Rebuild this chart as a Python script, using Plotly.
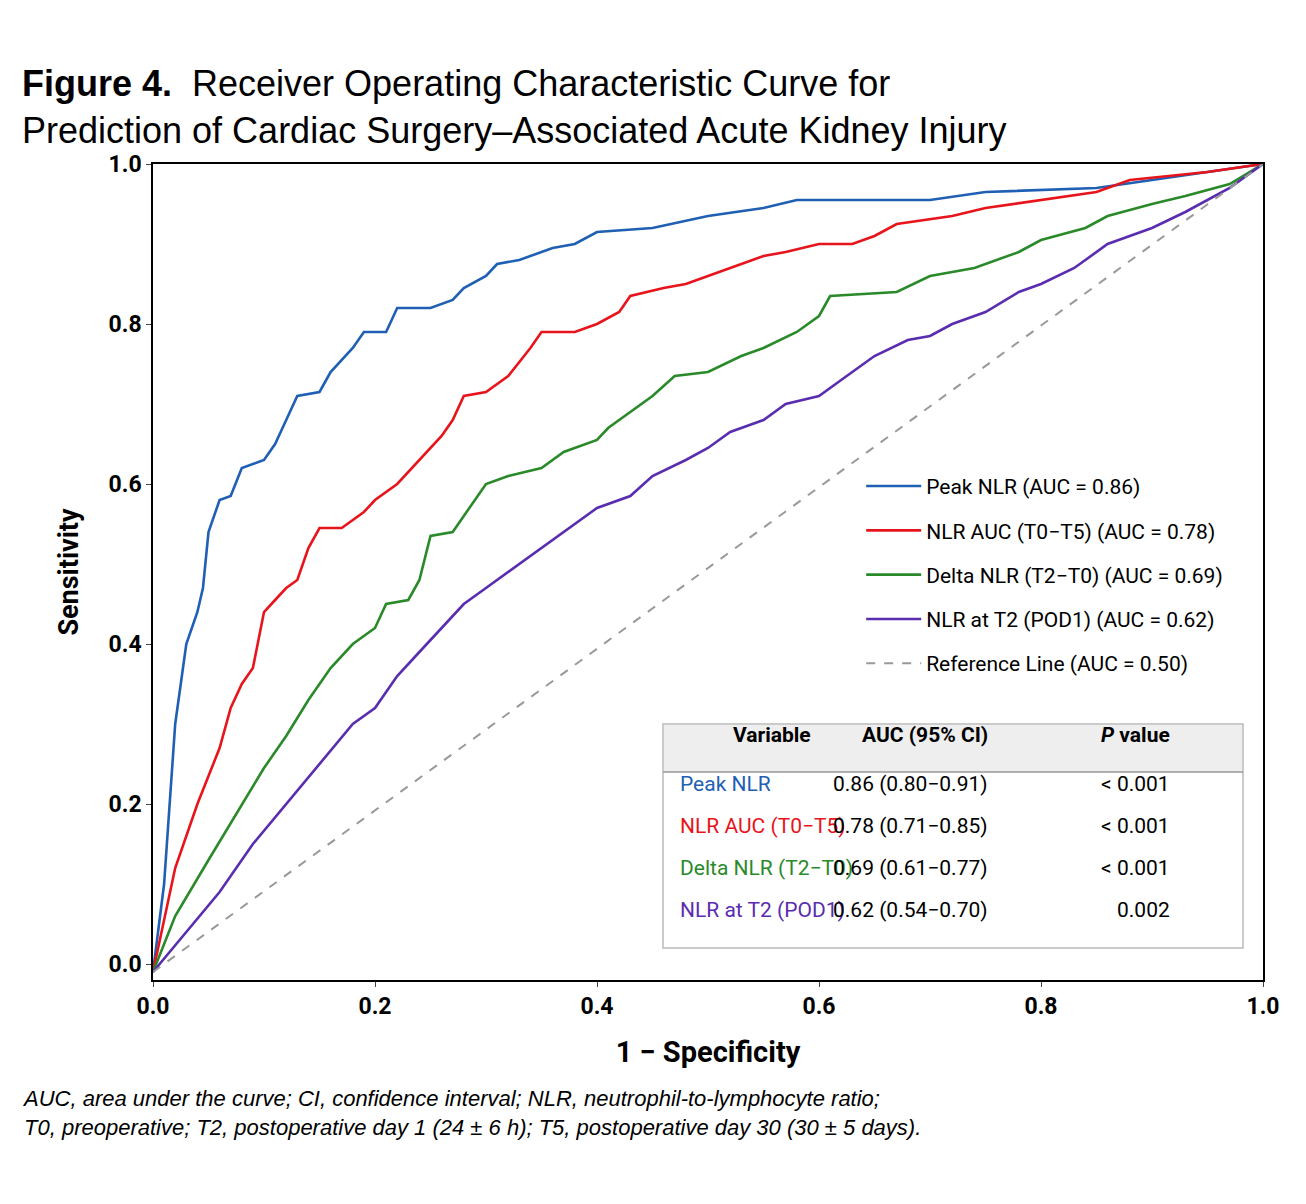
import plotly.graph_objects as go

peak_x=[0,0.01,0.02,0.03,0.04,0.045,0.05,0.06,0.07,0.08,0.1,0.11,0.12,0.13,0.15,0.16,0.18,0.19,0.21,0.22,0.25,0.27,0.28,0.3,0.31,0.33,0.36,0.38,0.4,0.45,0.5,0.55,0.58,0.7,0.75,0.85,0.9,0.95,1]
peak_y=[-0.01,0.1,0.3,0.4,0.44,0.47,0.54,0.58,0.585,0.62,0.63,0.65,0.68,0.71,0.715,0.74,0.77,0.79,0.79,0.82,0.82,0.83,0.845,0.86,0.875,0.88,0.895,0.9,0.915,0.92,0.935,0.945,0.955,0.955,0.965,0.97,0.98,0.99,1]
auc_x=[0,0.02,0.04,0.06,0.07,0.08,0.09,0.1,0.11,0.12,0.13,0.14,0.15,0.17,0.19,0.2,0.22,0.24,0.26,0.27,0.28,0.3,0.32,0.34,0.35,0.38,0.4,0.42,0.43,0.46,0.48,0.5,0.53,0.55,0.57,0.6,0.63,0.65,0.67,0.72,0.75,0.8,0.85,0.88,0.95,1]
auc_y=[-0.01,0.12,0.2,0.27,0.32,0.35,0.37,0.44,0.455,0.47,0.48,0.52,0.545,0.545,0.565,0.58,0.6,0.63,0.66,0.68,0.71,0.715,0.735,0.77,0.79,0.79,0.8,0.815,0.835,0.845,0.85,0.86,0.875,0.885,0.89,0.9,0.9,0.91,0.925,0.935,0.945,0.955,0.965,0.98,0.99,1]
delta_x=[0,0.02,0.05,0.08,0.1,0.12,0.14,0.16,0.18,0.2,0.21,0.23,0.24,0.25,0.27,0.28,0.3,0.32,0.35,0.37,0.4,0.41,0.43,0.45,0.47,0.5,0.53,0.55,0.58,0.6,0.61,0.67,0.7,0.74,0.78,0.8,0.84,0.86,0.9,0.93,0.97,1]
delta_y=[-0.01,0.06,0.13,0.2,0.245,0.285,0.33,0.37,0.4,0.42,0.45,0.455,0.48,0.535,0.54,0.56,0.6,0.61,0.62,0.64,0.655,0.67,0.69,0.71,0.735,0.74,0.76,0.77,0.79,0.81,0.835,0.84,0.86,0.87,0.89,0.905,0.92,0.935,0.95,0.96,0.975,1]
t2_x=[0,0.03,0.06,0.09,0.12,0.15,0.18,0.2,0.22,0.24,0.26,0.28,0.3,0.32,0.34,0.36,0.38,0.4,0.43,0.45,0.48,0.5,0.52,0.55,0.57,0.6,0.62,0.65,0.68,0.7,0.72,0.75,0.78,0.8,0.83,0.86,0.9,0.93,0.97,1]
t2_y=[-0.01,0.04,0.09,0.15,0.2,0.25,0.3,0.32,0.36,0.39,0.42,0.45,0.47,0.49,0.51,0.53,0.55,0.57,0.585,0.61,0.63,0.645,0.665,0.68,0.7,0.71,0.73,0.76,0.78,0.785,0.8,0.815,0.84,0.85,0.87,0.9,0.92,0.94,0.97,1]

names=["Peak NLR (AUC = 0.86)","NLR AUC (T0−T5) (AUC = 0.78)","Delta NLR (T2−T0) (AUC = 0.69)","NLR at T2 (POD1) (AUC = 0.62)"]
colors=["#1f5fb4","#e8141b","#2a8a2a","#5a2db0"]
table_vars=["Peak NLR","NLR AUC (T0−T5)","Delta NLR (T2−T0)","NLR at T2 (POD1)"]
table_auc=["0.86 (0.80−0.91)","0.78 (0.71−0.85)","0.69 (0.61−0.77)","0.62 (0.54−0.70)"]
table_p=["< 0.001","< 0.001","< 0.001","0.002"]

fig=go.Figure()
for i,(xs,ys) in enumerate([(peak_x,peak_y),(auc_x,auc_y),(delta_x,delta_y),(t2_x,t2_y)]):
    fig.add_trace(go.Scatter(x=xs,y=ys,mode="lines",name=names[i],legendgroup=str(i),
                             line=dict(color=colors[i],width=2.6)))
fig.add_trace(go.Scatter(x=[0,1],y=[-0.01,1],mode="lines",name="Reference Line (AUC = 0.50)",legendgroup="r",
                         line=dict(color="#999999",width=2,dash="dash")))

F="Roboto"
fig.update_layout(width=1306,height=1204,plot_bgcolor="white",paper_bgcolor="white",
    margin=dict(l=145,r=51,t=156,b=232),font=dict(family=F,color="black"),
    legend=dict(x=0.638,y=0.63,xanchor="left",yanchor="top",font=dict(size=21),tracegroupgap=14,
                bgcolor="rgba(0,0,0,0)",itemwidth=55),
    xaxis=dict(range=[0,1],tickvals=[0,0.2,0.4,0.6,0.8,1.0],ticktext=["0.0","0.2","0.4","0.6","0.8","1.0"],
               showgrid=False,showline=True,linecolor="black",linewidth=1.5,mirror=True,ticks="outside",
               tickfont=dict(size=23,family=F,weight="bold"),
               title=dict(text="<b>1 − Specificity</b>",font=dict(size=29),standoff=22)),
    yaxis=dict(range=[-0.02,1],tickvals=[0,0.2,0.4,0.6,0.8,1.0],ticktext=["0.0","0.2","0.4","0.6","0.8","1.0"],
               showgrid=False,showline=True,linecolor="black",linewidth=1.5,mirror=True,ticks="outside",
               tickfont=dict(size=23,family=F,weight="bold"),
               title=dict(text="<b>Sensitivity</b>",font=dict(size=27),standoff=22)))

def px(x): return (x-153)/1110
def py(y): return (980-y)/816
fig.add_shape(type="rect",xref="paper",yref="paper",x0=px(663),x1=px(1243),y0=py(948),y1=py(724),
              line=dict(color="#bbbbbb",width=1.5),fillcolor="white",layer="above")
fig.add_shape(type="rect",xref="paper",yref="paper",x0=px(664),x1=px(1242),y0=py(772),y1=py(725),
              line=dict(width=0),fillcolor="#eeeeee",layer="above")
fig.add_shape(type="line",xref="paper",yref="paper",x0=px(663),x1=px(1243),y0=py(772),y1=py(772),
              line=dict(color="#999999",width=1.5),layer="above")
hy=py(749)
for xx,t in [(772,"<b>Variable</b>"),(990,"<b>AUC (95% CI)</b>"),(1172,"<b><i>P</i> value</b>")]:
    fig.add_annotation(xref="paper",yref="paper",x=px(xx),y=hy,text=t,showarrow=False,font=dict(size=21))
rows=[798,840,882,924]
for i,r in enumerate(rows):
    fig.add_annotation(xref="paper",yref="paper",x=px(678),y=py(r),xanchor="left",text=table_vars[i],
                       showarrow=False,font=dict(size=21,color=colors[i]))
    fig.add_annotation(xref="paper",yref="paper",x=px(990),y=py(r),text=table_auc[i],showarrow=False,font=dict(size=21))
    fig.add_annotation(xref="paper",yref="paper",x=px(1172),y=py(r),text=table_p[i],showarrow=False,font=dict(size=21))

fig.add_annotation(xref="paper",yref="paper",x=px(20),y=py(61),xanchor="left",showarrow=False,align="left",
    text="<b>Figure 4.</b>  Receiver Operating Characteristic Curve for<br>Prediction of Cardiac Surgery–Associated Acute Kidney Injury",
    font=dict(size=36,family="Liberation Sans"))
fig.add_annotation(xref="paper",yref="paper",x=px(20),y=py(1142),xanchor="left",showarrow=False,align="left",
    text="<i>AUC, area under the curve; CI, confidence interval; NLR, neutrophil-to-lymphocyte ratio;<br>T0, preoperative; T2, postoperative day 1 (24 ± 6 h); T5, postoperative day 30 (30 ± 5 days).</i>",
    font=dict(size=22,family="Liberation Sans"))
fig.write_html("out.html")
